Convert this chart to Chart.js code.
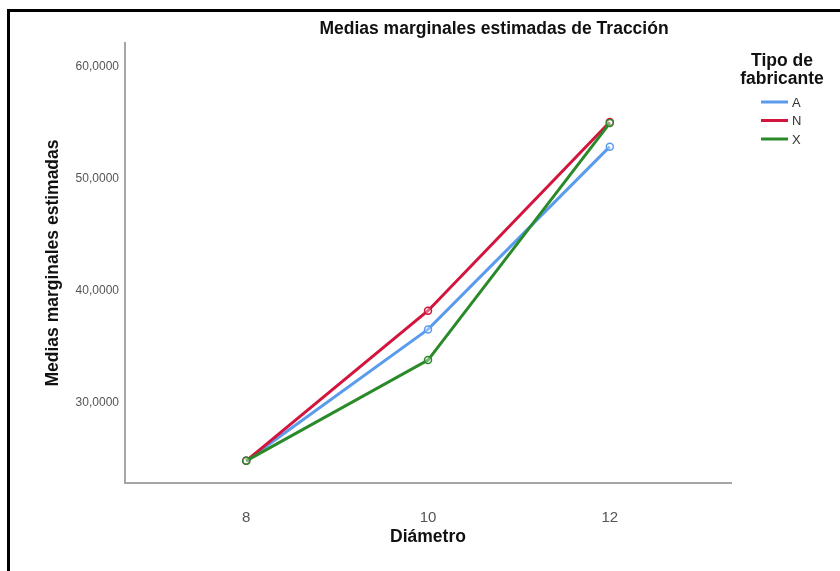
<!DOCTYPE html>
<html>
<head>
<meta charset="utf-8">
<script src="https://cdn.jsdelivr.net/npm/chart.js@4/dist/chart.umd.min.js"></script>
<style>
  html, body { margin: 0; padding: 0; background: #fff; }
  #wrap { position: relative; width: 840px; height: 571px; }
  #frame {
    position: absolute; left: 7px; top: 9px; right: 0; bottom: 0;
    border-top: 3px solid #000; border-left: 3px solid #000;
    pointer-events: none;
  }
</style>
</head>
<body>
<div id="wrap">
  <canvas id="chart" width="840" height="571"></canvas>
  <div id="frame"></div>
</div>
<script>
// Datos
const diametros = [8, 10, 12];
const fabricantes = ['A', 'N', 'X'];
const mediaA = [24.78, 36.52, 52.84];
const mediaN = [24.78, 38.19, 55.05];
const mediaX = [24.78, 33.78, 54.95];
const xTicks = [8, 10, 12];
const yTicks = [30, 40, 50, 60];

const colores = ['#5a9bee', '#d3143c', '#2a8a2a'];
const series = [mediaA, mediaN, mediaX];
const FONT = '"Liberation Sans", Arial, sans-serif';

const datasets = fabricantes.map((f, i) => ({
    label: f,
    data: diametros.map((d, j) => ({ x: d, y: series[i][j] })),
    borderColor: colores[i],
    backgroundColor: colores[i],
    borderWidth: 3,
    pointRadius: 3.5,
    pointBorderWidth: 1.5,
    pointBackgroundColor: 'rgba(255,255,255,0.35)',
    pointBorderColor: colores[i],
    tension: 0,
    order: fabricantes.length - 1 - i
}));

// Título y leyenda dibujados a mano
const extras = {
    id: 'extras',
    afterDraw(chart) {
        const ctx = chart.ctx;
        ctx.save();
        ctx.fillStyle = '#111';
        ctx.font = 'bold 17.5px ' + FONT;
        ctx.textAlign = 'center';
        ctx.textBaseline = 'middle';
        ctx.fillText('Medias marginales estimadas de Tracción', 494, 29);
        ctx.fillText('Tipo de', 782, 61);
        ctx.fillText('fabricante', 782, 79);
        ctx.font = '13px ' + FONT;
        ctx.textAlign = 'left';
        fabricantes.forEach((f, i) => {
            const y = 102 + i * 18.5;
            ctx.strokeStyle = colores[i];
            ctx.lineWidth = 3;
            ctx.beginPath();
            ctx.moveTo(761, y);
            ctx.lineTo(788, y);
            ctx.stroke();
            ctx.fillStyle = '#333';
            ctx.fillText(f, 792, y + 1);
        });
        ctx.restore();
    }
};

new Chart(document.getElementById('chart').getContext('2d'), {
    type: 'line',
    data: { datasets: datasets },
    options: {
        responsive: false,
        animation: false,
        layout: { padding: { left: 0, top: 43, right: 109, bottom: 0 } },
        plugins: { legend: { display: false }, tooltip: { enabled: false } },
        scales: {
            x: {
                type: 'linear',
                min: 6.6667,
                max: 13.3333,
                afterBuildTicks: s => { s.ticks = xTicks.map(v => ({ value: v })); },
                afterFit: s => { s.height = 88; },
                grid: { display: false, drawTicks: false },
                border: { display: true, color: '#a6a6a6', width: 2 },
                ticks: {
                    padding: 26,
                    color: '#555',
                    font: { family: FONT, size: 15 },
                    callback: v => String(v)
                },
                title: {
                    display: true,
                    text: 'Diámetro',
                    color: '#111',
                    font: { family: FONT, size: 17.5, weight: 'bold' },
                    padding: { top: 0, bottom: 23 }
                }
            },
            y: {
                type: 'linear',
                min: 22.8,
                max: 62.1,
                afterBuildTicks: s => { s.ticks = yTicks.map(v => ({ value: v })); },
                afterFit: s => { s.width = 125; },
                grid: { display: false, drawTicks: false },
                border: { display: true, color: '#a6a6a6', width: 2 },
                ticks: {
                    padding: 6,
                    color: '#555',
                    font: { family: FONT, size: 12 },
                    callback: v => v.toFixed(4).replace('.', ',')
                },
                title: {
                    display: true,
                    text: 'Medias marginales estimadas',
                    color: '#111',
                    font: { family: FONT, size: 17.5, weight: 'bold' },
                    padding: { top: 43, bottom: 0 }
                }
            }
        }
    },
    plugins: [extras]
});
</script>
</body>
</html>
